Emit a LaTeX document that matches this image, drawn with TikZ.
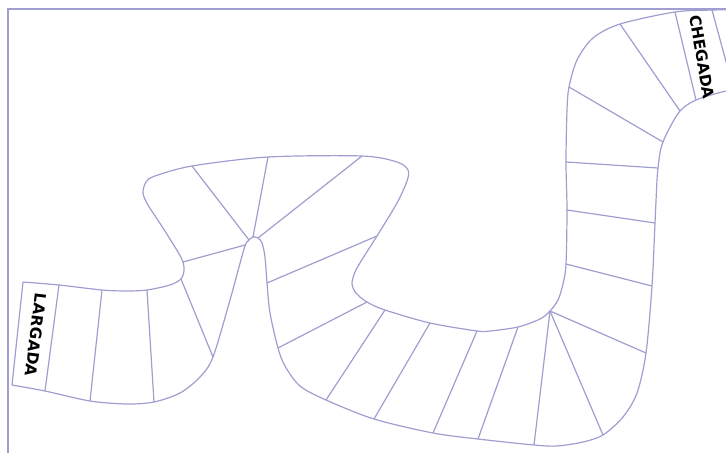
\documentclass[tikz,border=0pt]{standalone}
\usepackage{fontspec}
\setsansfont{DejaVu Sans}
\usepackage{tikz}
\definecolor{trackline}{RGB}{158,158,208}

\begin{document}
\begin{tikzpicture}[
    x=1pt, y=-1pt,
    track/.style={draw=trackline, line width=1.2pt, line join=round},
    cellline/.style={draw=trackline, line width=1.2pt},
    endlabel/.style={font=\sffamily\bfseries\fontsize{15.5}{15.5}\selectfont, inner sep=0pt}
]
    \useasboundingbox (0,0) rectangle (726,453);
    \clip (0,0) rectangle (726,453);
    % frame
    \draw[cellline] (8,453) -- (8,9) -- (740,9);
    % upper / inner edge of the track
    \draw[track] plot[smooth, tension=0.5] coordinates {
        (23,282) (59,285) (102,290) (127,291) (147,290) (170,285) (181,279)
        (184,271) (183,262) (178,252) (163,228) (148,205) (143,193) (146,182)
        (155,176) (192,166) (268,157) (362,156) (397,162) (408,170) (407,181)
        (397,203) (377,236) (357,268) (352,283) (356,293) (367,302) (385,310)
        (430,323) (477,331) (490,331) (518,327) (540,319) (550,311) (558,300)
        (563,284) (566,264) (567,210) (566,162) (567,110) (569,87) (577,60)
        (593,38) (620,24) (675,12) (713,10) (760,9)};
    % lower / outer edge of the track
    \draw[track] plot[smooth, tension=0.5] coordinates {
        (12,385) (45,391) (90,401) (127,404) (154,402) (180,393) (200,377)
        (213,357) (230,300) (244,249) (248,241) (253,237) (258,238) (262,243)
        (265,257) (267,283) (270,313) (278,348) (285,366) (300,386) (326,400)
        (374,419) (433,433) (478,439) (534,445) (557,446) (583,442) (603,435)
        (623,417) (637,393) (646,353) (652,286) (655,223) (657,180) (658,168)
        (661,148) (668,131) (680,111) (696,100) (726,91) (760,85)};
    % squares
    \draw[cellline] (23,282) -- (12,385);
    \draw[cellline] (59,285) -- (45,391);
    \draw[cellline] (102,290) -- (90,401);
    \draw[cellline] (147,290) -- (154,402);
    \draw[cellline] (181,279) -- (213,357);
    \draw[cellline] (183,262) -- (245,245);
    \draw[cellline] (192,166) -- (249,240);
    \draw[cellline] (268,157) -- (253,237);
    \draw[cellline] (362,156) -- (258,238);
    \draw[cellline] (377,236) -- (267,283);
    \draw[cellline] (367,302) -- (278,348);
    \draw[cellline] (385,310) -- (326,400);
    \draw[cellline] (430,323) -- (374,419);
    \draw[cellline] (477,331) -- (433,433);
    \draw[cellline] (518,327) -- (478,439);
    \draw[cellline] (550,311) -- (534,445);
    \draw[cellline] (550,311) -- (603,435);
    \draw[cellline] (550,311) -- (646,353);
    \draw[cellline] (566,264) -- (652,286);
    \draw[cellline] (567,210) -- (655,223);
    \draw[cellline] (566,162) -- (658,168);
    \draw[cellline] (569,87) -- (663,142);
    \draw[cellline] (620,24) -- (680,111);
    \draw[cellline] (675,12) -- (696,100);
    \draw[cellline] (712,10) -- (734,91);
    % start and finish
    \node[endlabel, rotate=-97] (largada) at (36,335) {LARGADA};
    \node[endlabel, rotate=-80] (chegada) at (702,57) {CHEGADA};
\end{tikzpicture}
\end{document}
